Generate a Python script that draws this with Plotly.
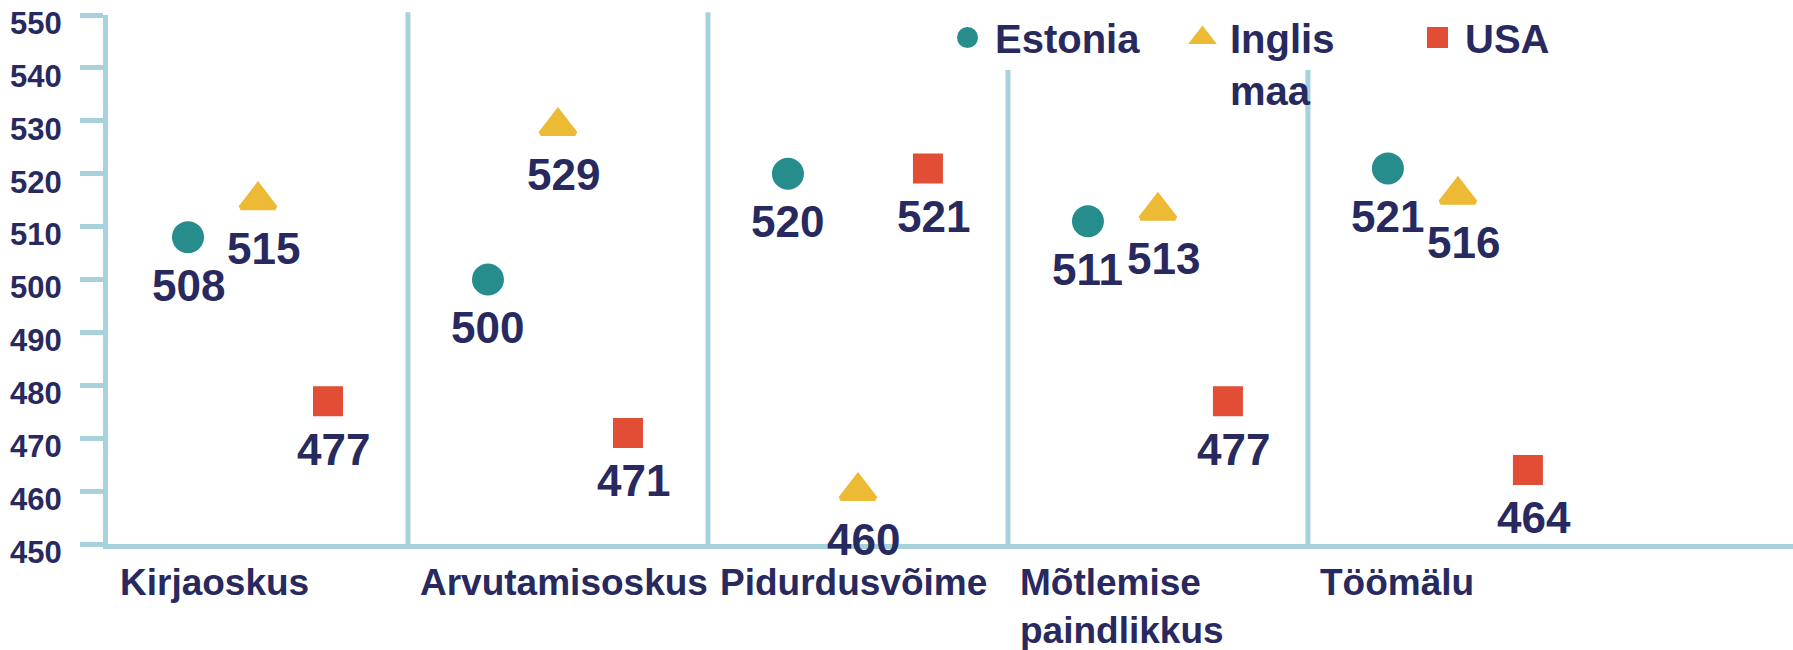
import plotly.graph_objects as go

categories = ["Kirjaoskus", "Arvutamisoskus", "Pidurdusvõime", "Mõtlemise<br>paindlikkus", "Töömälu"]
series_names = ["Estonia", "Inglis<br>maa", "USA"]
estonia = [508, 500, 520, 511, 521]
inglismaa = [515, 529, 460, 513, 516]
usa = [477, 471, 521, 477, 464]
y_ticks = list(range(450, 551, 10))

NAVY = "#28295E"
AXIS = "#A8D2DB"
FONT = "Liberation Sans, Arial, sans-serif"

W, H = 1793, 650
ML, MR, MT, MB = 108, 0, 15, 106
SCATTERGAP = 0.3

styles = [("circle", "#278D8C", 27), ("triangle-up", "#EDBA35", 30), ("square", "#E24E35", 25)]
all_series = [estonia, inglismaa, usa]

fig = go.Figure()
n_series = len(all_series)
slot = (1 - SCATTERGAP) / n_series
annotations = []
for k, (name, vals, (sym, col, size)) in enumerate(zip(series_names, all_series, styles)):
    fig.add_trace(go.Scatter(
        x=categories, y=vals, name=name, mode="markers",
        marker=dict(symbol=sym, color=col, size=size, line=dict(width=5, color=col)),
        offsetgroup=str(k), orientation="v", cliponaxis=False,
        hoverinfo="x+y+name",
    ))
    offset = -(1 - SCATTERGAP) / 2 + slot * (k + 0.5)
    for i, v in enumerate(vals):
        annotations.append(dict(x=i + offset, xref="x", y=v, yref="y", text="<b>%d</b>" % v,
                                xanchor="center", yanchor="middle", xshift=6 if k else 0, yshift=-48,
                                showarrow=False, font=dict(family=FONT, size=44, color=NAVY)))

shapes = []
for i in range(len(categories) - 1):
    shapes.append(dict(type="line", xref="x", yref="paper", x0=i + 0.5, x1=i + 0.5,
                       y0=0, y1=1.005, line=dict(color=AXIS, width=5), layer="below"))
# white box behind legend text (as in the original text box)
shapes.append(dict(type="rect", xref="paper", yref="paper",
                   x0=(930 - ML) / (W - ML - MR), x1=(1600 - ML) / (W - ML - MR),
                   y0=1 - (70 - MT) / (H - MT - MB), y1=1 + MT / (H - MT - MB) + 0.01,
                   fillcolor="white", line=dict(width=0), layer="below"))

for i, lab in enumerate(categories):
    annotations.append(dict(x=i - 0.5, xref="x", y=0, yref="paper", text="<b>" + lab + "</b>",
                            xanchor="left", yanchor="top", align="left", xshift=10, yshift=-16,
                            showarrow=False, font=dict(family=FONT, size=37, color=NAVY)))

fig.update_layout(
    width=W, height=H,
    margin=dict(l=ML, r=MR, t=MT, b=MB, pad=0, autoexpand=False),
    paper_bgcolor="white", plot_bgcolor="white",
    scattermode="group", scattergap=SCATTERGAP,
    shapes=shapes, annotations=annotations,
    showlegend=True,
    legend=dict(orientation="h", xref="container", yref="container",
                x=940 / W, y=1.0 - 5 / H, xanchor="left", yanchor="top",
                font=dict(family=FONT, size=40, color=NAVY, weight="bold"),
                bgcolor="rgba(0,0,0,0)", valign="top", itemsizing="trace",
                itemwidth=45, entrywidth=175, entrywidthmode="pixels"),
    xaxis=dict(type="category", range=[-0.5, 5.117], showline=True, linecolor=AXIS, linewidth=5,
               ticks="", showticklabels=False, showgrid=False, zeroline=False, fixedrange=True),
    yaxis=dict(range=[450, 550], tickvals=y_ticks, showline=True, linecolor=AXIS, linewidth=5,
               ticks="outside", ticklen=23, tickwidth=5, tickcolor=AXIS,
               showgrid=False, zeroline=False, fixedrange=True,
               tickfont=dict(family=FONT, size=31, color=NAVY, weight="bold"),
               ticklabelstandoff=12, ticklabelshift=8),
)

fig.write_html("out.html", config={"displayModeBar": False},
               post_script="document.body.style.margin='0px';")
